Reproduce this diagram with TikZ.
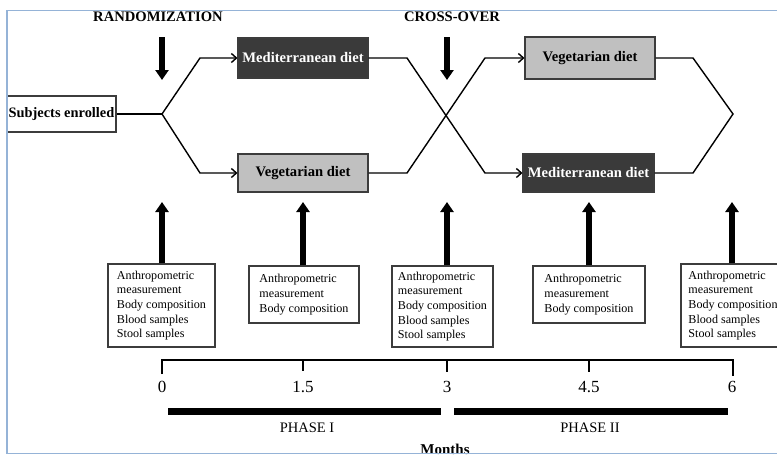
\documentclass[tikz,border=0pt]{standalone}
\usepackage{fontspec}
\setmainfont{Liberation Serif}
\usetikzlibrary{arrows.meta}
\definecolor{framebl}{HTML}{95B3D7}
\definecolor{darkdiet}{HTML}{3A3A3A}
\definecolor{lightdiet}{HTML}{C0C0C0}
\definecolor{edgegray}{HTML}{3C3C3C}

\begin{document}
\begin{tikzpicture}[x=1pt,y=-1pt,
  dietbox/.style={draw=edgegray, line width=1.1pt, minimum width=130pt,
    minimum height=39pt, inner sep=0pt, font=\fontsize{14.6}{16}\selectfont\bfseries},
  meddiet/.style={dietbox, fill=darkdiet, text=white},
  vegdiet/.style={dietbox, fill=lightdiet, text=black},
  measbox/.style={draw=edgegray, line width=1.1pt, align=left, inner xsep=6pt,
    inner ysep=0pt, font=\fontsize{12.1}{14.7}\selectfont},
  flow/.style={line width=1.4pt, line join=miter},
  flowtip/.style={flow, -{Straight Barb[length=5pt,width=9pt]}},
  bigarrow/.style={line width=6.5pt, -{Triangle[width=13pt,length=10pt]}},
  phasebar/.style={line width=7pt},
  axisline/.style={line width=1.3pt},
  ticklabel/.style={font=\fontsize{17}{19}\selectfont},
  phaselabel/.style={font=\fontsize{14.5}{16}\selectfont},
  headlabel/.style={font=\fontsize{14.6}{16}\selectfont\bfseries}
]
\useasboundingbox (0,0) rectangle (777,456);
\clip (0,0) rectangle (777,456);

% headings and their down arrows
\node[headlabel] (rand) at (158,17) {RANDOMIZATION};
\node[headlabel] (cross) at (452,17) {CROSS-OVER};
\coordinate (randtop) at (162,37);
\coordinate (randbot) at (162,80);
\coordinate (crosstop) at (447,37);
\coordinate (crossbot) at (447,80);
\draw[bigarrow] (randtop) -- (randbot);
\draw[bigarrow] (crosstop) -- (crossbot);

% enrolment and diet boxes
\node[draw=edgegray, line width=1.1pt, minimum width=109pt, minimum height=36pt,
  inner sep=0pt, font=\fontsize{14.4}{16}\selectfont\bfseries] (subj) at (61.5,114) {Subjects enrolled};
\node[meddiet, minimum height=40pt] (med1) at (303,58) {Mediterranean diet};
\node[vegdiet, minimum height=38pt] (veg1) at (303,173) {Vegetarian diet};
\node[vegdiet, minimum height=42pt] (veg2) at (590,58) {Vegetarian diet};
\node[meddiet, minimum height=38pt, minimum width=131pt] (med2) at (588.5,173) {Mediterranean diet};

% bend points of the flow lines
\coordinate (split) at (162,114);
\coordinate (upA) at (200,58);
\coordinate (loA) at (200,173);
\coordinate (upB) at (407,58);
\coordinate (loB) at (407,173);
\coordinate (upC) at (485,58);
\coordinate (loC) at (485,173);
\coordinate (upD) at (693,58);
\coordinate (loD) at (693,173);
\coordinate (join) at (733,114);

\draw[flow] (subj.east) -- (split);
\draw[flowtip] (split) -- (upA) -- (med1.west);
\draw[flowtip] (split) -- (loA) -- (veg1.west);
\draw[flowtip] (med1.east) -- (upB) -- (loC) -- (med2.west);
\draw[flowtip] (veg1.east) -- (loB) -- (upC) -- (veg2.west);
\draw[flow] (veg2.east) -- (upD) -- (join) -- (loD) -- (med2.east);

% measurement boxes
\node[measbox, minimum width=107pt, minimum height=83pt] (m0) at (161.5,305.5)
  {Anthropometric\\measurement\\Body composition\\Blood samples\\Stool samples};
\node[measbox, minimum width=110pt, minimum height=57pt] (m1) at (304,294.5)
  {Anthropometric\\measurement\\Body composition};
\node[measbox, minimum width=99pt, minimum height=81pt] (m2) at (442.5,306.5)
  {Anthropometric\\measurement\\Body composition\\Blood samples\\Stool samples};
\node[measbox, minimum width=112pt, minimum height=57pt] (m3) at (589,294.5)
  {Anthropometric\\measurement\\Body composition};
\node[measbox, minimum width=104pt, minimum height=83pt] (m4) at (733,305.5)
  {Anthropometric\\measurement\\Body composition\\Blood samples\\Stool samples};

% up arrows from the measurements to the diets
\coordinate (a0) at (162,202);
\coordinate (a1) at (303,202);
\coordinate (a2) at (447,202);
\coordinate (a3) at (589,202);
\coordinate (a4) at (732,202);
\draw[bigarrow] (m0.north -| a0) -- (a0);
\draw[bigarrow] (m1.north -| a1) -- (a1);
\draw[bigarrow] (m2.north -| a2) -- (a2);
\draw[bigarrow] (m3.north -| a3) -- (a3);
\draw[bigarrow] (m4.north -| a4) -- (a4);

% time axis in months
\coordinate (ax0) at (162,360);
\coordinate (ax6) at (733,360);
\draw[axisline] (162,374) -- (ax0) -- (ax6) -- (733,376);
\draw[axisline] (303,361) -- (303,371);
\draw[axisline] (447,361) -- (447,372);
\draw[axisline] (589,361) -- (589,372);
\node[ticklabel] (t0) at (162,387) {0};
\node[ticklabel] (t1) at (303,387) {1.5};
\node[ticklabel] (t2) at (447,387) {3};
\node[ticklabel] (t3) at (589,387) {4.5};
\node[ticklabel] (t4) at (732,387) {6};

% study phases
\coordinate (p1s) at (168,411);
\coordinate (p1e) at (441,411);
\coordinate (p2s) at (454,411);
\coordinate (p2e) at (728,411);
\draw[phasebar] (p1s) -- (p1e);
\draw[phasebar] (p2s) -- (p2e);
\node[phaselabel] (ph1) at (307,428) {PHASE I};
\node[phaselabel] (ph2) at (590,428) {PHASE II};
\node[font=\fontsize{15}{16}\selectfont\bfseries] (months) at (445,449) {Months};

% surrounding frame
\draw[framebl, line width=1.2pt] (777,10.7) -- (7,10.7) -- (7,453.3) -- (777,453.3);
\end{tikzpicture}
\end{document}
